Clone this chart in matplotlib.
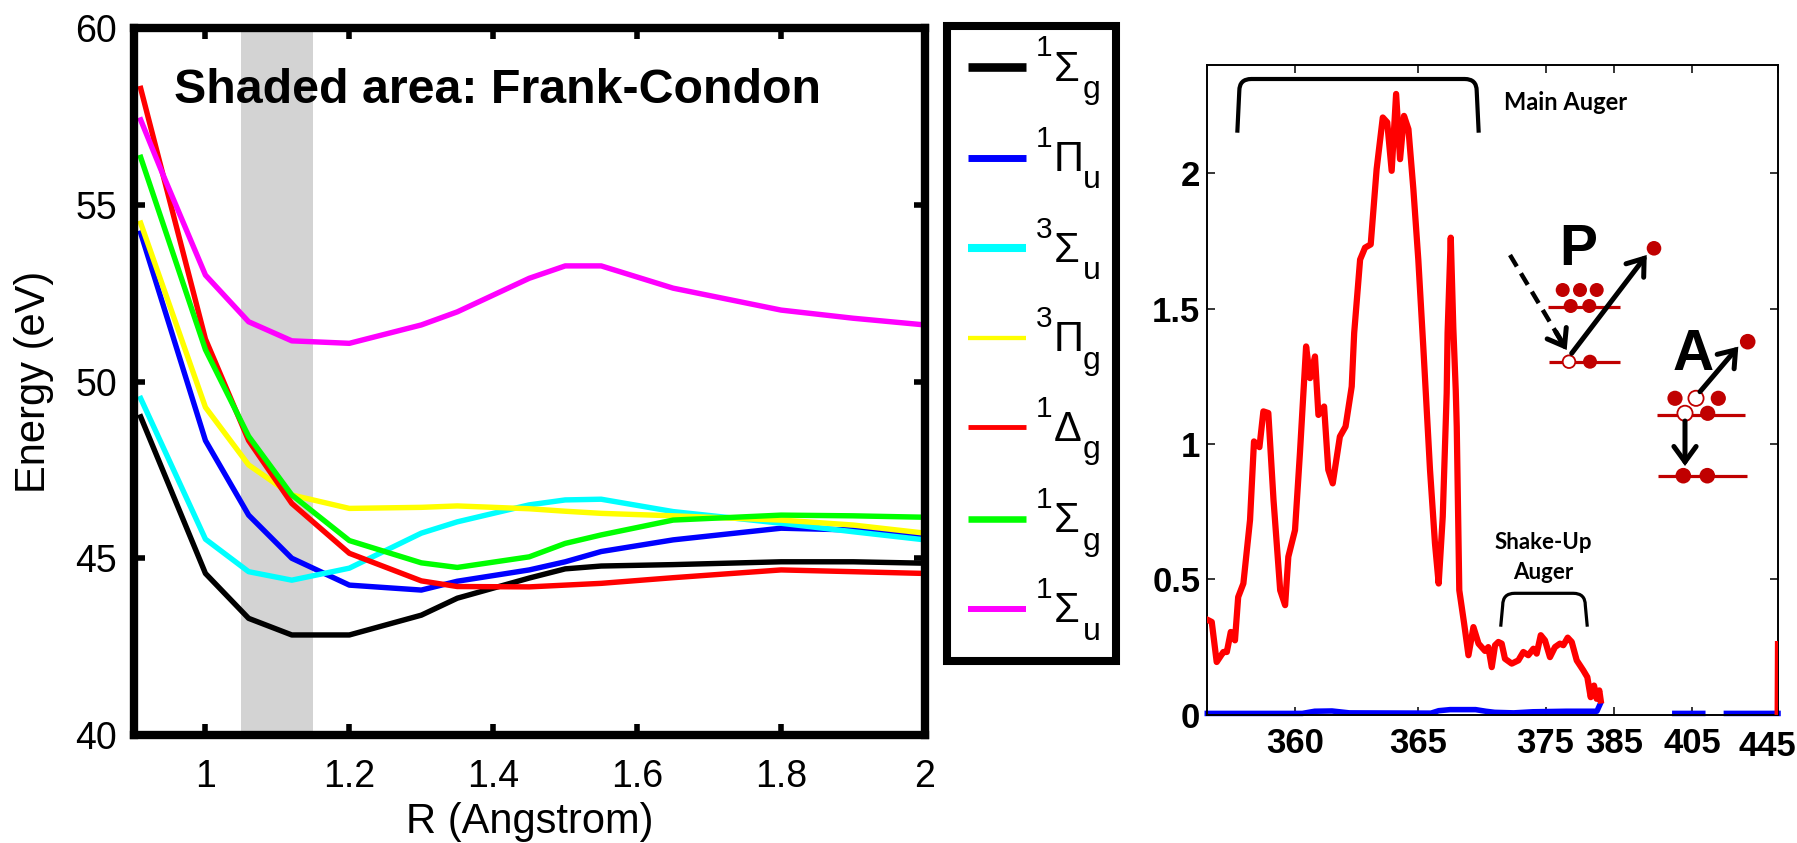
import numpy as np
import matplotlib
matplotlib.use("Agg")
import matplotlib.pyplot as plt
from matplotlib.patches import Rectangle, Circle, FancyArrowPatch, PathPatch
from matplotlib.path import Path

plt.rcParams['font.family'] = ['Liberation Sans', 'DejaVu Sans']

# potential energy curves (eV) vs bond length (Angstrom)
R = [0.91, 1.0, 1.06, 1.12, 1.2, 1.3, 1.35, 1.45, 1.5, 1.55, 1.65, 1.8, 1.9, 2.0]
E_1Sg = [49.0, 44.57, 43.3, 42.83, 42.83, 43.39, 43.87, 44.44, 44.7, 44.78, 44.82, 44.9, 44.9, 44.86]
E_1Pu = [54.2, 48.33, 46.22, 45.0, 44.24, 44.1, 44.35, 44.67, 44.9, 45.19, 45.52, 45.85, 45.8, 45.65]
E_3Su = [49.52, 45.54, 44.62, 44.38, 44.72, 45.71, 46.03, 46.51, 46.65, 46.67, 46.32, 45.99, 45.75, 45.52]
E_3Pg = [54.48, 49.27, 47.64, 46.79, 46.41, 46.44, 46.48, 46.4, 46.33, 46.27, 46.2, 46.08, 45.94, 45.71]
E_1Dg = [58.29, 51.2, 48.33, 46.55, 45.14, 44.36, 44.2, 44.19, 44.24, 44.29, 44.45, 44.67, 44.62, 44.57]
E_1Sg2 = [56.34, 50.9, 48.45, 46.79, 45.5, 44.87, 44.74, 45.04, 45.42, 45.66, 46.08, 46.22, 46.2, 46.16]
R_1Su = [0.91, 0.94, 1.0, 1.06, 1.12, 1.2, 1.3, 1.35, 1.45, 1.5, 1.55, 1.65, 1.8, 1.9, 2.0]
E_1Su = [57.4, 55.9, 53.01, 51.69, 51.15, 51.08, 51.6, 51.97, 52.92, 53.27, 53.27, 52.64, 52.02, 51.79, 51.6]

# term symbols: multiplicity, symmetry, parity
state_sup = ['1', '1', '3', '3', '1', '1', '1']
state_sym = ['Σ', 'Π', 'Σ', 'Π', 'Δ', 'Σ', 'Σ']
state_sub = ['g', 'u', 'u', 'g', 'g', 'g', 'u']
state_colors = ['black', 'blue', 'cyan', 'yellow', 'red', 'lime', 'magenta']
legend_lw = [6.2, 5.0, 5.8, 3.1, 3.5, 4.7, 4.3]

# Auger spectrum
auger_E = [356.5, 356.63, 356.83, 357.1, 357.24, 357.4, 357.57, 357.7, 357.91, 358.18,
           358.34, 358.56, 358.72, 358.92, 359.13, 359.4, 359.6, 359.73, 360.0, 360.2,
           360.45, 360.61, 360.81, 360.95, 361.18, 361.35, 361.53, 361.82, 362.05, 362.3,
           362.4, 362.64, 362.84, 363.07, 363.31, 363.56, 363.74, 363.92, 364.1, 364.26,
           364.42, 364.6, 364.8, 365.0, 365.39, 365.92, 366.31, 366.6, 366.92, 367.23,
           367.3, 367.55, 367.75, 367.94, 368.02, 368.22, 368.6, 368.94, 369.33, 369.73,
           370.24, 370.5, 370.77, 371.03, 371.29, 371.55, 371.81, 372.34, 372.86, 373.25,
           373.64, 374.04, 374.3, 374.62, 374.95, 375.64, 376.37, 377.1, 377.59, 378.23,
           378.82, 379.55, 380.51, 381.1, 381.59, 382.08, 382.47, 382.85, 383.06, 383.2,
           444.85, 445.0]
auger_I = [0.348, 0.342, 0.194, 0.231, 0.231, 0.305, 0.274, 0.434, 0.484, 0.719,
           1.009, 0.988, 1.12, 1.114, 0.793, 0.459, 0.404, 0.583, 0.681, 0.966,
           1.36, 1.243, 1.323, 1.107, 1.138, 0.904, 0.854, 1.027, 1.064, 1.212,
           1.41, 1.681, 1.725, 1.737, 2.015, 2.206, 2.188, 2.009, 2.293, 2.052,
           2.212, 2.163, 1.941, 1.681, 1.36, 0.904, 0.632, 0.484, 0.731, 1.188,
           1.41, 1.762, 1.43, 1.2, 1.064, 0.459, 0.336, 0.219, 0.323, 0.262,
           0.235, 0.249, 0.175, 0.256, 0.268, 0.262, 0.206, 0.188, 0.2, 0.231,
           0.219, 0.243, 0.225, 0.293, 0.274, 0.212, 0.249, 0.262, 0.256, 0.284,
           0.268, 0.2, 0.163, 0.138, 0.064, 0.107, 0.058, 0.089, 0.052, np.nan,
           0.01, 0.26]
photo_E = [356.45, 360.3, 360.8, 361.5, 362.2, 366.0, 366.6, 367.5, 369.5, 370.3, 371.0,
           372.5, 374.0, 378.0, 382.5, 383.0, 383.2, 400.6, 404.0, 404.2, 405.7, 410.0,
           410.2, 421.0, 445.0]
photo_I = [0.004, 0.004, 0.012, 0.013, 0.006, 0.005, 0.014, 0.018, 0.018, 0.012, 0.008,
           0.006, 0.01, 0.012, 0.012, 0.04, np.nan, 0.004, 0.004, np.nan, 0.004, 0.004,
           np.nan, 0.004, 0.004]

energy_ticks = [360, 365, 375, 385, 405, 445]
# the energy axis is stretched piecewise (dense grid in the main Auger region)
scale_E = [356.45, 360, 365, 375, 385, 405, 445]
scale_pos = [0, 87.7, 211.0, 338.3, 406.7, 484.7, 570.7]

W, H = 1797, 843
fig = plt.figure(figsize=(W / 100, H / 100), dpi=100)

# ---- left: potential curves ----
ax1 = fig.add_axes([133.5 / W, 1 - 735 / H, 791.5 / W, 707 / H])
ax1.axvspan(1.05, 1.15, color='#d3d3d3', lw=0, zorder=0)
curves = [E_1Sg, E_1Pu, E_3Su, E_3Pg, E_1Dg, E_1Sg2]
for e, c in zip(curves, state_colors[:6]):
    ax1.plot(R, e, color=c, lw=3.9)
ax1.plot(R_1Su, E_1Su, color=state_colors[6], lw=3.9)
ax1.set_xlim(0.9, 2)
ax1.set_ylim(40, 60)
ax1.set_xticks([1, 1.2, 1.4, 1.6, 1.8, 2])
ax1.set_xticklabels(['1', '1.2', '1.4', '1.6', '1.8', '2'])
ax1.set_yticks([40, 45, 50, 55, 60])
ax1.tick_params(direction='in', length=8, width=4, top=True, right=True, labelsize=27)
ax1.tick_params(axis='x', pad=17)
ax1.tick_params(axis='y', pad=12)
for s in ax1.spines.values():
    s.set_linewidth(6)
ax1.set_xlabel('R (Angstrom)', fontsize=30, va='center')
ax1.xaxis.set_label_coords(0.5, -0.123)
ax1.set_ylabel('Energy (eV)', fontsize=30, va='center')
ax1.yaxis.set_label_coords(-0.1257, 0.5)
ax1.text(0.0518, 0.8935, 'Shaded area: Frank-Condon', transform=ax1.transAxes,
         fontsize=34.8, fontweight='bold', va='baseline', ha='left')

# ---- right: Auger spectrum ----
ax2 = fig.add_axes([1207.3 / W, 1 - 714.5 / H, 570.7 / W, 649.5 / H])
ax2.set_xscale('function', functions=(lambda x: np.interp(x, scale_E, scale_pos),
                                      lambda p: np.interp(p, scale_pos, scale_E)))
ax2.plot(auger_E, auger_I, color='red', lw=4.5, zorder=3)
ax2.plot(photo_E, photo_I, color='blue', lw=4, zorder=2, clip_on=False)
ax2.set_xlim(356.45, 445)
ax2.set_ylim(0, 2.4)
ax2.set_xticks(energy_ticks)
# the last label sits against the figure edge, drawn separately below
ax2.set_xticklabels([str(t) for t in energy_ticks[:-1]] + [''])
ax2.set_yticks([0, 0.5, 1, 1.5, 2])
ax2.set_yticklabels(['0', '0.5', '1', '1.5', '2'])
ax2.minorticks_off()
ax2.tick_params(direction='in', length=5.5, width=1.1, top=True, right=True, labelsize=25)
ax2.tick_params(axis='x', pad=9)
ax2.tick_params(axis='y', pad=5)
for lab in ax2.get_xticklabels() + ax2.get_yticklabels():
    lab.set_fontweight('bold')
for s in ax2.spines.values():
    s.set_linewidth(1.4)

# ---- overlay in pixel coordinates: legend box, brackets, sketches ----
ov = fig.add_axes([0, 0, 1, 1], zorder=10)
ov.set_xlim(0, W)
ov.set_ylim(H, 0)
ov.axis('off')
ov.patch.set_visible(False)

ov.text(1767, 756, str(energy_ticks[-1]), fontsize=25, fontweight='bold',
        ha='center', va='baseline')

ov.add_patch(Rectangle((946.8, 25.5), 1116 - 946.8, 660.5 - 25.5, fill=False,
                       edgecolor='black', lw=5.8))
entry_y = [67, 157.5, 248.4, 337.6, 427.4, 518.8, 608.6]
for y, sup, sym, sub, c, lw in zip(entry_y, state_sup, state_sym, state_sub,
                                   state_colors, legend_lw):
    ov.plot([968, 1026], [y, y], color=c, lw=lw, solid_capstyle='butt')
    ov.text(1036, y - 10.5, sup, fontsize=21.5, va='baseline', ha='left')
    ov.text(1054, y + 13.6, sym, fontsize=30, va='baseline', ha='left')
    ov.text(1083, y + 31, sub, fontsize=23, va='baseline', ha='left')


def bracket(x0, x1, yt, yb, lw):
    verts = [(x0, yb), (x0 + 2, yt + 12), (x0 + 2, yt), (x0 + 14, yt),
             (x1 - 14, yt), (x1 - 2, yt), (x1 - 2, yt + 12), (x1, yb)]
    codes = [Path.MOVETO, Path.LINETO, Path.CURVE3, Path.CURVE3,
             Path.LINETO, Path.CURVE3, Path.CURVE3, Path.LINETO]
    ov.add_patch(PathPatch(Path(verts, codes), fill=False, edgecolor='black', lw=lw))


bracket(1237.3, 1478.7, 79, 132.7, 3.0)
bracket(1500.7, 1587.3, 593.3, 626.7, 2.3)
ov.text(1504, 110.2, 'Main Auger', family='Lato', fontweight='bold', fontsize=17,
        ha='left', va='baseline')
ov.text(1543.5, 549, 'Shake-Up', family='Lato', fontweight='bold', fontsize=16,
        ha='center', va='baseline')
ov.text(1543.5, 579, 'Auger', family='Lato', fontweight='bold', fontsize=16,
        ha='center', va='baseline')

dark_red = '#c00000'


def level(x0, x1, y):
    ov.plot([x0, x1], [y, y], color=dark_red, lw=2.3, solid_capstyle='butt', zorder=2)


def dot(x, y, r, hole=False):
    if hole:
        ov.add_patch(Circle((x, y), r, facecolor='white', edgecolor=dark_red, lw=1.3, zorder=3))
    else:
        ov.add_patch(Circle((x, y), r, facecolor=dark_red, edgecolor='none', zorder=3))


def arrow(p0, p1, lw=3.6):
    ov.add_patch(FancyArrowPatch(p0, p1, arrowstyle='->,head_length=0.55,head_width=0.4',
                                 mutation_scale=20, lw=lw, color='black',
                                 shrinkA=0, shrinkB=0, zorder=4,
                                 capstyle='round', joinstyle='miter'))


# photoionisation sketch
ov.text(1578.3, 265, 'P', fontsize=41, fontweight='bold', ha='center', va='baseline')
level(1548.3, 1620, 307.3)
level(1549.3, 1620, 361.7)
for x, y in [(1562.7, 290), (1580, 290), (1596.7, 290), (1570.7, 306), (1589.3, 306)]:
    dot(x, y, 7)
dot(1569, 361.7, 6.3, hole=True)
dot(1590, 361.7, 7)
ov.plot([1510, 1563], [255, 344], color='black', lw=3.2, dashes=(3, 1.8),
        solid_capstyle='butt', zorder=4)
arrow((1556, 332), (1566.7, 350))
arrow((1571.7, 353.3), (1646.7, 255))
dot(1654, 248.3, 7.3)

# Auger decay sketch
ov.text(1693.3, 370, 'A', fontsize=41, fontweight='bold', ha='center', va='baseline')
level(1656.7, 1745, 415)
level(1658, 1746.7, 475.7)
for x, y, h in [(1675, 398.3, False), (1696, 398.3, True), (1718.3, 398.3, False),
                (1685, 413.3, True), (1707.7, 413.3, False)]:
    dot(x, y, 7.6, hole=h)
dot(1683.3, 475.7, 7.8)
dot(1707.3, 475.7, 7.8)
arrow((1700, 391.7), (1738.3, 346.7))
dot(1747.7, 341.7, 7.8)
arrow((1685, 421), (1685, 466))

fig.savefig('out.png', dpi=100)
